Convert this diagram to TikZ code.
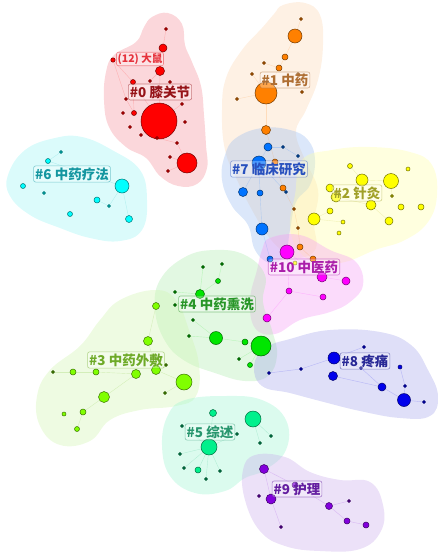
\documentclass[tikz,border=0pt]{standalone}
\usepackage{fontspec}
\newfontfamily\cjk{Noto Sans CJK SC}
\pgfdeclarelayer{blobs}
\pgfdeclarelayer{edges}
\pgfdeclarelayer{labels}
\pgfsetlayers{blobs,edges,main,labels}
% node colours
\definecolor{c0}{RGB}{255,0,0}
\definecolor{c1}{RGB}{255,128,0}
\definecolor{c7}{RGB}{0,115,255}
\definecolor{c2}{RGB}{255,255,0}
\definecolor{c6}{RGB}{0,255,255}
\definecolor{c10}{RGB}{255,0,255}
\definecolor{c4}{RGB}{0,230,0}
\definecolor{c3}{RGB}{128,255,0}
\definecolor{c8}{RGB}{0,0,235}
\definecolor{c5}{RGB}{0,240,140}
\definecolor{c9}{RGB}{130,0,220}
% blob colours
\definecolor{b0}{RGB}{245,145,155}
\definecolor{b1}{RGB}{251,215,181}
\definecolor{b7}{RGB}{155,189,241}
\definecolor{b2}{RGB}{255,255,165}
\definecolor{b6}{RGB}{155,245,245}
\definecolor{b10}{RGB}{245,155,245}
\definecolor{b4}{RGB}{175,235,175}
\definecolor{b3}{RGB}{209,245,175}
\definecolor{b8}{RGB}{165,165,235}
\definecolor{b5}{RGB}{155,245,209}
\definecolor{b9}{RGB}{201,171,235}
% label colours
\definecolor{l0}{RGB}{150,20,25}
\definecolor{l12}{RGB}{230,50,60}
\definecolor{l1}{RGB}{175,110,50}
\definecolor{l7}{RGB}{40,80,190}
\definecolor{l2}{RGB}{160,160,40}
\definecolor{l6}{RGB}{20,150,160}
\definecolor{l10}{RGB}{170,30,170}
\definecolor{l4}{RGB}{40,150,40}
\definecolor{l3}{RGB}{110,170,40}
\definecolor{l8}{RGB}{40,40,150}
\definecolor{l5}{RGB}{40,150,110}
\definecolor{l9}{RGB}{100,30,160}
\tikzset{
  nd/.style={circle, inner sep=0pt, fill=#1, draw=#1!45!black, line width=0.5pt},
  tn/.style={circle, inner sep=0pt, minimum size=3.4pt, fill=#1, draw=#1!75!black, line width=0.4pt},
  ed/.style={draw=#1, draw opacity=0.18, line width=0.4pt},
  blob/.style={fill=#1, fill opacity=0.36},
  lab/.style={draw=#1, draw opacity=0.5, fill=white, fill opacity=0.3, text opacity=1, text=#1,
    rounded corners=2pt, inner sep=1.6pt, line width=0.6pt, font=\cjk\bfseries\fontsize{13.5}{14}\selectfont},
}
\begin{document}
\begin{tikzpicture}[x=1pt,y=-1pt]
\useasboundingbox (0,0) rectangle (438,555);
\begin{pgfonlayer}{blobs}
\fill[blob=b1] plot[smooth cycle, tension=0.7] coordinates {(283,5) (305,3) (320,15) (323,45) (318,80) (306,110) (296,132) (305,160) (318,190) (314,222) (316,248) (300,258) (284,252) (268,236) (252,210) (238,182) (225,150) (222,110) (226,78) (242,50) (262,28) (274,14)};
\fill[blob=b0] plot[smooth cycle, tension=0.7] coordinates {(152,17) (168,13) (182,24) (185,45) (192,62) (201,86) (204,115) (206,145) (207,168) (197,184) (178,186) (160,176) (146,158) (126,147) (109,127) (104,100) (106,72) (114,55) (136,42) (144,27)};
\fill[blob=b6] plot[smooth cycle, tension=0.7] coordinates {(55,138) (82,137) (112,150) (140,170) (147,200) (142,230) (120,241) (90,238) (60,228) (30,215) (10,196) (8,175) (25,150)};
\fill[blob=b7] plot[smooth cycle, tension=0.7] coordinates {(236,138) (262,128) (290,130) (308,140) (315,160) (310,185) (296,202) (290,230) (285,255) (270,263) (255,250) (248,225) (232,206) (222,180) (225,155)};
\fill[blob=b2] plot[smooth cycle, tension=0.7] coordinates {(302,160) (332,150) (370,147) (410,152) (432,165) (437,195) (428,222) (405,240) (375,250) (345,262) (318,263) (298,250) (290,225) (295,195)};
\fill[blob=b10] plot[smooth cycle, tension=0.7] coordinates {(270,238) (300,235) (330,250) (356,262) (363,285) (350,302) (330,312) (300,320) (275,334) (255,328) (250,300) (257,270) (262,250)};
\fill[blob=b4] plot[smooth cycle, tension=0.7] coordinates {(185,257) (215,250) (245,255) (265,275) (263,302) (272,330) (277,355) (268,376) (245,381) (215,373) (185,361) (165,341) (155,310) (160,280)};
\fill[blob=b3] plot[smooth cycle, tension=0.7] coordinates {(120,300) (155,290) (176,300) (189,330) (199,365) (196,396) (176,406) (140,410) (110,420) (90,441) (60,445) (40,426) (37,396) (50,370) (80,346) (100,320)};
\fill[blob=b8] plot[smooth cycle, tension=0.7] coordinates {(290,339) (330,330) (380,332) (411,345) (428,370) (438,396) (430,416) (400,418) (360,411) (320,401) (290,393) (262,386) (254,366) (265,348)};
\fill[blob=b5] plot[smooth cycle, tension=0.7] coordinates {(185,400) (225,396) (262,400) (286,420) (286,450) (265,470) (245,478) (225,491) (195,493) (170,476) (162,445) (168,415)};
\fill[blob=b9] plot[smooth cycle, tension=0.7] coordinates {(255,455) (285,457) (310,472) (340,480) (370,482) (383,505) (381,531) (360,549) (320,551) (285,546) (260,531) (245,500) (243,470)};
\end{pgfonlayer}
% ---------- nodes ----------
% #0 red
\foreach \n/\x/\y/\r in {r1/163/48/4, r2/160/71/4.5, r3/133/82/2.5, r4/134/113/2.5, r5/159/121/18, r6/187/163/10, r7/113/60/2.2}
  \node[nd=c0, minimum size=2*\r pt] (\n) at (\x,\y) {};
\foreach \n/\x/\y in {t1/166/29, t2/150/81, t3/170/82, t4/126/99, t5/182/104, t6/123/113, t7/185/122, t8/130/127, t9/141/135, t10/157/138, t11/177/143, t12/170/157, t13/168/171}
  \node[tn=c0!65!black] (\n) at (\x,\y) {};
% #1 orange
\foreach \n/\x/\y/\r in {o1/295/36/7, o2/285/57/3, o3/279/68/3, o4/266/93/11, o5/266/130/4.5, o6/275/162/3, o7/283/188/3, o8/300/247/3, o9/313/259/3}
  \node[nd=c1, minimum size=2*\r pt] (\n) at (\x,\y) {};
\foreach \n/\x/\y in {u1/301/19, u2/264/63, u3/252/74, u4/298/74, u5/237/99, u6/302/92, u7/294/209, u8/298/228}
  \node[tn=c1!60!black] (\n) at (\x,\y) {};
% #7 blue
\foreach \n/\x/\y/\r in {bb1/268/147/4, bb2/259/163/7, bb3/243/192/4.5, bb4/260/193/3, bb5/262/229/6, bb6/270/259/3}
  \node[nd=c7, minimum size=2*\r pt] (\n) at (\x,\y) {};
\foreach \n/\x/\y in {v1/283/147, v2/298/156, v3/286/192}
  \node[tn=c7!55!black] (\n) at (\x,\y) {};
% #2 yellow
\foreach \n/\x/\y/\r in {y1/350/166/2.5, y2/362/180/6, y3/391/181/7.5, y4/408/169/2, y5/330/188/4, y6/336/197/5, y7/371/205/5, y8/330/211/3, y9/401/207/3, y10/421/207/3, y11/314/219/6, y12/343/222/2, y13/389/221/4, y14/339/233/2, y15/295/263/2}
  \node[nd=c2, minimum size=2*\r pt] (\n) at (\x,\y) {};
\foreach \n/\x/\y in {w1/392/196}
  \node[tn=c2!55!black] (\n) at (\x,\y) {};
% #6 cyan
\foreach \n/\x/\y/\r in {k1/48/161/2.5, k2/23/186/2.5, k3/122/186/7, k4/97/200/3, k5/70/214/2.5, k6/129/219/3.5}
  \node[nd=c6, minimum size=2*\r pt] (\n) at (\x,\y) {};
\foreach \n/\x/\y in {z1/61/152, z2/44/193, z3/109/206}
  \node[tn=c6!60!black] (\n) at (\x,\y) {};
% #10 magenta
\foreach \n/\x/\y/\r in {m1/287/252/7, m2/322/277/5, m3/346/281/4, m4/289/291/3, m5/323/297/3, m6/267/318/4}
  \node[nd=c10, minimum size=2*\r pt] (\n) at (\x,\y) {};
% #4 green
\foreach \n/\x/\y/\r in {g1/218/281/2.5, g2/200/294/4.5, g3/216/338/6.5, g4/245/342/3, g5/261/346/10, g6/250/365/2.5}
  \node[nd=c4, minimum size=2*\r pt] (\n) at (\x,\y) {};
\foreach \n/\x/\y in {h1/203/267, h2/222/264, h3/175/292, h4/175/305, h5/193/320, h6/189/336, h7/239/359}
  \node[tn=c4!50!black] (\n) at (\x,\y) {};
% #3 light green
\foreach \n/\x/\y/\r in {e1/156/306/3.5, e2/148/341/4.5, e3/73/372/3, e4/96/372/3, e5/136/374/4.5, e6/156/370/4.5, e7/184/382/8, e8/104/397/5.5, e9/83/412/3, e10/77/429/2.5, e11/64/414/2}
  \node[nd=c3, minimum size=2*\r pt] (\n) at (\x,\y) {};
\foreach \n/\x/\y in {f1/53/372, f2/166/365, f3/165/393}
  \node[tn=c3!45!black] (\n) at (\x,\y) {};
% #8 blue
\foreach \n/\x/\y/\r in {p1/334/358/6, p2/333/376/4.5, p3/382/387/4, p4/404/400/6.5, p5/400/367/2}
  \node[nd=c8, minimum size=2*\r pt] (\n) at (\x,\y) {};
\foreach \n/\x/\y in {q1/364/347, q2/361/368, q3/269/373, q4/301/369, q5/405/386, q6/424/402}
  \node[tn=c8!65!black] (\n) at (\x,\y) {};
% #5 spring green
\foreach \n/\x/\y/\r in {s1/213/413/3.5, s2/253/419/8, s3/209/447/8, s4/198/470/3}
  \node[nd=c5, minimum size=2*\r pt] (\n) at (\x,\y) {};
\foreach \n/\x/\y in {x1/182/426, x2/237/434, x3/271/436, x4/260/443, x5/180/454, x6/184/468, x7/220/471, x8/206/479}
  \node[tn=c5!45!black] (\n) at (\x,\y) {};
% #9 purple
\foreach \n/\x/\y/\r in {a1/264/469/4.5, a2/271/499/5, a3/295/485/3, a4/329/506/3.5, a5/347/521/3, a6/366/525/3}
  \node[nd=c9, minimum size=2*\r pt] (\n) at (\x,\y) {};
\foreach \n/\x/\y in {d1/259/496, d2/349/501, d3/281/527}
  \node[tn=c9!55!black] (\n) at (\x,\y) {};
% ---------- edges ----------
\begin{pgfonlayer}{edges}
\foreach \a/\b in {r7/r3, r7/t4, t1/r1, r1/r2, r2/t2, r2/r5, r3/r4, r3/r5, r5/t10, t10/t11, t11/r6, r6/t12, r6/t13, r5/t5, r5/t9, t4/r4}
  \draw[ed=c0] (\a) -- (\b);
\foreach \a/\b in {u1/o1, o1/o2, o2/o3, o3/o4, o4/u5, o4/u4, o4/o5, o5/o6, o6/o7, o7/u7, u7/u8, u8/o8, o8/o9, u2/o3, u3/o4}
  \draw[ed=c1] (\a) -- (\b);
\foreach \a/\b in {bb1/bb2, bb2/bb3, bb2/bb4, bb4/bb5, bb5/bb6, bb1/v1, v1/v2, bb2/v3}
  \draw[ed=c7] (\a) -- (\b);
\foreach \a/\b in {y2/y3, y5/y6, y6/y7, y7/y13, y3/w1, y8/y11, y11/y12, y1/y2}
  \draw[ed=c2!70!black] (\a) -- (\b);
\foreach \a/\b in {k3/k6, k3/z3, k4/z3, z1/k1, k1/k3}
  \draw[ed=c6!70!black] (\a) -- (\b);
\foreach \a/\b in {m1/m2, m2/m3, m4/m5, m4/m6, m1/m4}
  \draw[ed=c10] (\a) -- (\b);
\foreach \a/\b in {h1/g2, h2/g1, g1/g2, g2/h4, h5/g3, g3/g4, g4/g5, g5/h7, g5/g6, h6/g3, h3/g2}
  \draw[ed=c4] (\a) -- (\b);
\foreach \a/\b in {e1/e2, e2/e6, e6/e7, e5/e4, e4/e3, e3/f1, e8/e9, e9/e10, e8/e5, e7/f3, e6/f2}
  \draw[ed=c3!70!black] (\a) -- (\b);
\foreach \a/\b in {q3/q4, q4/p1, p1/q1, p1/q2, p2/p3, p3/p4, p4/q6, p5/q5, q5/p4, q2/p3}
  \draw[ed=c8] (\a) -- (\b);
\foreach \a/\b in {s3/x1, s3/x5, s3/x6, s3/s4, s3/x8, s3/x7, s3/x2, s2/x3, s2/x4, s1/s3}
  \draw[ed=c5!70!black] (\a) -- (\b);
\foreach \a/\b in {a1/a3, a1/a2, a2/d3, a4/d2, a4/a5, a5/a6, a3/a4}
  \draw[ed=c9] (\a) -- (\b);
\end{pgfonlayer}
% ---------- labels ----------
\begin{pgfonlayer}{labels}
\node[lab=l12, font=\cjk\bfseries\fontsize{10.5}{11}\selectfont, inner sep=1.2pt] (L12) at (140,59) {(12) 大鼠};
\node[lab=l0] (L0) at (160,92) {\#0 膝关节};
\node[lab=l1] (L1) at (285,80) {\#1 中药};
\node[lab=l7] (L7) at (269,169) {\#7 临床研究};
\node[lab=l2] (L2) at (357,193) {\#2 针灸};
\node[lab=l6] (L6) at (72,174) {\#6 中药疗法};
\node[lab=l10] (L10) at (304,267) {\#10 中医药};
\node[lab=l4] (L4) at (217,304) {\#4 中药熏洗};
\node[lab=l3] (L3) at (126,360) {\#3 中药外敷};
\node[lab=l8] (L8) at (365,361) {\#8 疼痛};
\node[lab=l5] (L5) at (210,432) {\#5 综述};
\node[lab=l9] (L9) at (297,489) {\#9 护理};
\end{pgfonlayer}
\end{tikzpicture}
\end{document}
